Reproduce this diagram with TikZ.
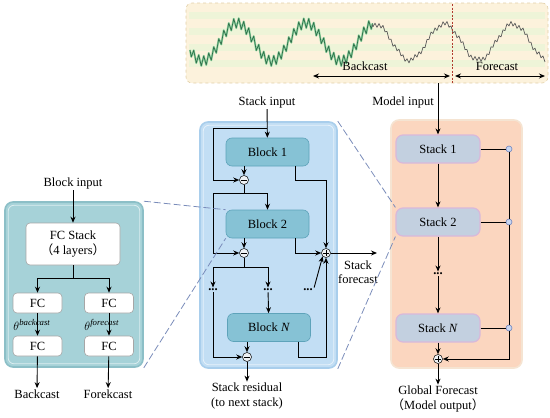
\documentclass[tikz,border=0pt]{standalone}
\usepackage{fontspec}
\setmainfont{Liberation Serif}
\newfontfamily\cjk{Noto Sans CJK SC}
\usetikzlibrary{arrows.meta}

\definecolor{topfill}{HTML}{FCF2DC}
\definecolor{topline}{HTML}{E2CFA8}
\definecolor{stripe}{HTML}{EEF4D8}
\definecolor{wavelight}{HTML}{8FD3A0}
\definecolor{wavedark}{HTML}{2F6E4A}
\definecolor{wavegray}{HTML}{5A5A5A}
\definecolor{cutred}{HTML}{B03A2E}
\definecolor{mpfill}{HTML}{C2DEF4}
\definecolor{mpline}{HTML}{A9CEEC}
\definecolor{blockfill}{HTML}{86C2D5}
\definecolor{blockline}{HTML}{5EA3BA}
\definecolor{lpfill}{HTML}{A6D2D8}
\definecolor{lpline}{HTML}{8CBFC7}
\definecolor{rpfill}{HTML}{FBD6BF}
\definecolor{rpline}{HTML}{F5E4D2}
\definecolor{stackfill}{HTML}{C3D0E0}
\definecolor{stackline}{HTML}{D9B8DA}
\definecolor{tapfill}{HTML}{C8D6F0}
\definecolor{tapline}{HTML}{6F85BF}
\definecolor{zoomcol}{HTML}{7A8CBA}
\definecolor{opfill}{HTML}{EEF2F5}

\begin{document}
\begin{tikzpicture}[x=1pt, y=-1pt, >={Stealth[length=6pt,width=5pt]},
    font=\fontsize{12.5}{14.5}\selectfont, line width=0.9pt,
    txt/.style={inner sep=1pt, align=center},
    toppanel/.style={draw=topline, fill=topfill, dashed, line width=0.6pt, rounded corners=6pt},
    panel/.style={draw=#1line, fill=#1fill, line width=1.6pt, rounded corners=8pt},
    blockbox/.style={draw=blockline, fill=blockfill, line width=0.6pt, rounded corners=6pt, minimum width=83pt, minimum height=28pt},
    stackbox/.style={draw=stackline, fill=stackfill, line width=1.2pt, rounded corners=7pt, minimum width=84pt, minimum height=28pt},
    fcbox/.style={draw=gray!70, fill=white, line width=0.6pt, rounded corners=4pt, minimum width=49pt, minimum height=20pt},
    opnode/.style={circle, draw, fill=opfill, inner sep=0pt, minimum size=9pt, line width=0.5pt},
    minus/.style={opnode, path picture={\draw[line width=0.6pt] ([xshift=1.8pt]path picture bounding box.west) -- ([xshift=-1.8pt]path picture bounding box.east);}},
    plus/.style={opnode, path picture={\draw[line width=0.6pt] ([xshift=1.8pt]path picture bounding box.west) -- ([xshift=-1.8pt]path picture bounding box.east) ([yshift=1.8pt]path picture bounding box.south) -- ([yshift=-1.8pt]path picture bounding box.north);}},
    tapnode/.style={circle, draw=tapline, fill=tapfill, inner sep=0pt, minimum size=6pt, line width=0.6pt},
    zoomline/.style={draw=zoomcol, line width=0.8pt, dash pattern=on 7pt off 3pt}]
    \useasboundingbox (0,0) rectangle (550,418);

    \node[toppanel, minimum width=362pt, minimum height=80pt] (tp) at (367,43) {};
    \foreach \y in {12,28,44,60}
        \fill[stripe] (189,\y) rectangle (545,\y+7);
    \draw[wavelight, line width=2pt, line join=round]
        plot[domain=190:372.5, samples=147] (\x, {42-19*cos((\x-237)/69*360)+5*sin(72*mod(\x-190,5))});
    \draw[wavedark, line width=0.7pt, line join=round]
        plot[domain=190:372.5, samples=147] (\x, {42-19*cos((\x-237)/69*360)+5*sin(72*mod(\x-190,5))});
    \draw[wavegray, line width=0.7pt, line join=round]
        plot[domain=372:545, samples=174] (\x, {42-18*cos((\x-237)/69*360)+2*sin(90*mod(\x-372,4))+1.2*sin(23*(\x-372))});
    \coordinate (cut1) at (452,4);
    \coordinate (cut2) at (452,84);
    \draw[cutred, line width=1pt, dash pattern=on 2pt off 1.5pt] (cut1) -- (cut2);
    \coordinate (bk1) at (313,76);
    \coordinate (bk2) at (450,76);
    \coordinate (fk1) at (455,76);
    \coordinate (fk2) at (545,76);
    \draw[<->] (bk1) -- (bk2);
    \draw[<->] (fk1) -- (fk2);
    \node[txt] (bkl) at (365,66) {Backcast};
    \node[txt] (fkl) at (497,66) {Forecast};

    \node[panel=lp, minimum width=138pt, minimum height=165pt] (lp) at (74,284.5) {};
    \draw[white, opacity=0.6, line width=0.8pt, rounded corners=6pt] ([shift={(4,4)}]lp.north west) rectangle ([shift={(-4,-4)}]lp.south east);
    \node[panel=mp, minimum width=137pt, minimum height=246pt] (mp) at (268.5,245) {};
    \draw[white, opacity=0.6, line width=0.8pt, rounded corners=6pt] ([shift={(4,4)}]mp.north west) rectangle ([shift={(-4,-4)}]mp.south east);
    \node[panel=rp, minimum width=131pt, minimum height=248pt] (rp) at (456.5,244) {};

    \node[txt] (bin) at (73,183) {Block input};
    \node[fcbox, minimum width=94pt, minimum height=42pt, align=center] (fcs) at (73,244) {FC Stack\\{\cjk （}4 layers{\cjk ）}};
    \coordinate (fj) at (73,278);
    \node[fcbox] (fa1) at (37.5,303) {FC};
    \node[fcbox] (fb1) at (109,303) {FC};
    \node[fcbox] (fa2) at (37.5,346) {FC};
    \node[fcbox] (fb2) at (109,346) {FC};
    \node[txt, anchor=west] (thb) at (12,325) {$\theta^{\mathit{backcast}}$};
    \node[txt, anchor=west] (thf) at (83,325) {$\theta^{\mathit{forecast}}$};
    \node[txt] (bc) at (37,394) {Backcast};
    \node[txt] (fc) at (108,394) {Forekcast};
    \draw[->] (bin) -- (fcs);
    \draw (fcs) -- (fj);
    \draw[->] (fj) -| (fa1);
    \draw[->] (fj) -| (fb1);
    \draw[->] (fa1) -- (fa2);
    \draw[->] (fb1) -- (fb2);
    \draw[->] (fa2) -- (bc);
    \draw[->] (fb2) -- (fc);

    \node[txt] (sin) at (267,102) {Stack input};
    \node[blockbox] (b1) at (267.5,152) {Block 1};
    \node[blockbox] (b2) at (267.5,224) {Block 2};
    \node[blockbox] (bN) at (269,327.5) {Block \textit{N}};
    \node[minus] (m1) at (244,180) {};
    \node[minus] (m2) at (244,253) {};
    \node[minus] (mN) at (247,357) {};
    \node[plus] (sp) at (326,253) {};
    \node[txt] (d1) at (213,290) {\textbf{...}};
    \node[txt] (d2) at (268,290) {\textbf{...}};
    \node[txt] (d3) at (308,290) {\textbf{...}};
    \node[txt] (res) at (247,396) {Stack residual\\(to next stack)};
    \node[txt] (sf) at (358,272) {Stack\\forecast};
    \coordinate (j0) at (267,128);
    \coordinate (lx) at (213,128);
    \coordinate (j1) at (244,193);
    \coordinate (j2) at (244,267);
    \coordinate (rx) at (326,180);
    \coordinate (sfo) at (377,253);
    \draw[->] (sin) -- (b1);
    \draw[->] (j0) -- (lx) |- (m1);
    \draw[->] (b1.south -| m1) -- (m1);
    \draw (m1) -- (j1);
    \draw[->] (j1) -| (b2.north);
    \draw[->] (j1) -- (j1 -| lx) |- (m2);
    \draw[->] (b2.south -| m2) -- (m2);
    \draw (m2) -- (j2);
    \draw (j2 -| d1) -- (j2 -| d2);
    \draw[->] (j2 -| d1) -- (d1.north);
    \draw[->] (j2 -| d2) -- (d2.north);
    \draw[->] (d2) -- (bN);
    \draw[->] (d1) |- (mN);
    \draw[->] (bN.south -| mN) -- (mN);
    \draw[->] (mN) -- (res);
    \draw[->] ([xshift=27.5pt]b1.south) |- (rx) -- (sp.north);
    \draw[->] ([xshift=27.5pt]b2.south) |- (sp.west);
    \draw[->] (d3.north east) -- (sp.south west);
    \draw[->] ([xshift=29pt]bN.south) |- (sp |- mN) -- (sp.south);
    \draw[->] (sp) -- (sfo);

    \node[txt] (min) at (403,102) {Model input};
    \node[stackbox] (s1) at (438,149) {Stack 1};
    \node[stackbox] (s2) at (438,222) {Stack 2};
    \node[txt] (sd) at (438,274) {\textbf{...}};
    \node[stackbox] (sN) at (438,328) {Stack \textit{N}};
    \node[plus] (gp) at (438,359) {};
    \node[txt] (gout) at (438,399) {Global Forecast\\{\cjk （}Model output{\cjk ）}};
    \node[tapnode] (t1) at (509,149) {};
    \node[tapnode] (t2) at (509,222) {};
    \node[tapnode] (tN) at (509,328) {};
    \draw[->] (tp.south -| s1) -- (s1);
    \draw[->] (s1) -- (s2);
    \draw[->] (s2) -- (sd);
    \draw[->] (sd) -- (sN);
    \draw[->] (sN) -- (gp);
    \draw[->] (gp) -- (gout);
    \draw (s1) -- (t1);
    \draw (s2) -- (t2);
    \draw (sN) -- (tN);
    \draw (t1) -- (t2) -- (tN);
    \draw[->] (tN) |- (gp);

    \draw[zoomline] (lp.north east) -- (b2.north west);
    \draw[zoomline] (lp.south east) -- (b2.south west);
    \draw[zoomline] (mp.north east) -- (s2.north west);
    \draw[zoomline] (mp.south east) -- (s2.south west);
\end{tikzpicture}
\end{document}
